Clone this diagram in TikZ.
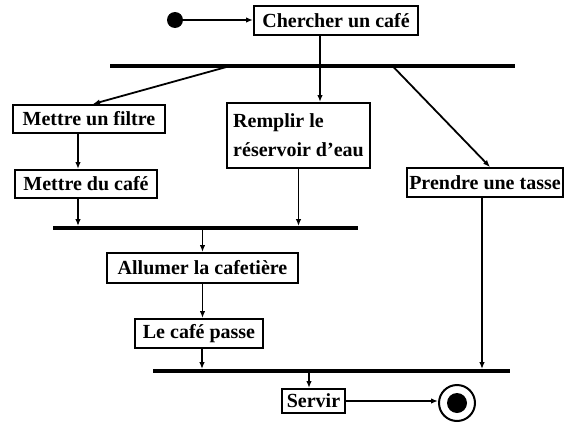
\documentclass[tikz,border=0pt]{standalone}
\usepackage{fontspec}
\setmainfont{Liberation Serif}
\usetikzlibrary{arrows.meta}
\begin{document}
\begin{tikzpicture}[x=1pt,y=-1pt,
  act/.style={draw, line width=2pt, inner sep=1.5pt, font=\bfseries\fontsize{20}{29}\selectfont, align=left},
  bar/.style={fill=black, inner sep=0pt, minimum height=3.5pt},
  conn/.style={line width=1.8pt},
  arr/.style={conn, -{Latex[length=7pt,width=5.5pt]}}]
\useasboundingbox (0,0) rectangle (565,423);
\node[circle, fill=black, inner sep=0pt, minimum size=16pt] (start) at (175,20) {};
\node[act, minimum width=164pt, minimum height=29pt] (chercher) at (336,20.5) {Chercher un café};
\node[bar, minimum width=405pt] (bar1) at (312.5,66) {};
\node[act, minimum width=152pt, minimum height=28pt] (filtre) at (89,119) {Mettre un filtre};
\node[act, minimum width=142pt, minimum height=28pt] (ducafe) at (86,184) {Mettre du café};
\node[act, minimum width=143pt, minimum height=65pt] (remplir) at (298.5,135.5) {Remplir le\\réservoir d'eau};
\node[act, minimum width=156pt, minimum height=29pt] (prendre) at (485,182.5) {Prendre une tasse};
\node[bar, minimum width=305pt] (bar2) at (205.5,228) {};
\node[act, minimum width=191pt, minimum height=30pt] (allumer) at (202.5,268) {Allumer la cafetière};
\node[act, minimum width=128pt, minimum height=29pt] (passe) at (199,333.5) {Le café passe};
\node[bar, minimum width=357pt] (bar3) at (331.5,371) {};
\node[act, minimum width=63pt, minimum height=24pt] (servir) at (313.5,401) {Servir};
\node[circle, draw, line width=2pt, inner sep=0pt, minimum size=36pt] (endo) at (457,403) {};
\node[circle, fill=black, inner sep=0pt, minimum size=20pt] (endi) at (endo.center) {};
% connectors
\draw[arr] (start.east) -- (chercher.west |- start.east);
\draw[conn] ([xshift=-16pt]chercher.south) -- ([xshift=-16pt]chercher.south |- bar1.north);
\draw[arr] ([xshift=-82.5pt]bar1.center) -- ([xshift=4pt]filtre.north);
\draw[arr] ([xshift=21.5pt]remplir.north |- bar1.south) -- ([xshift=21.5pt]remplir.north);
\draw[arr] ([xshift=80pt]bar1.center) -- ([xshift=5pt]prendre.north);
\draw[arr] ([xshift=-11pt]filtre.south) -- ([xshift=-11pt]filtre.south |- ducafe.north);
\draw[arr] ([xshift=-8pt]ducafe.south) -- ([xshift=-8pt]ducafe.south |- bar2.north);
\draw[arr] (remplir.south) -- (remplir.south |- bar2.north);
\draw[arr] (allumer.north |- bar2.south) -- (allumer.north);
\draw[arr] (allumer.south) -- (allumer.south |- passe.north);
\draw[arr] ([xshift=3pt]passe.south) -- ([xshift=3pt]passe.south |- bar3.north);
\draw[arr] ([xshift=-3pt]prendre.south) -- ([xshift=-3pt]prendre.south |- bar3.north);
\draw[arr] ([xshift=-4.5pt]servir.north |- bar3.south) -- ([xshift=-4.5pt]servir.north);
\draw[arr] (servir.east) -- (endo.west |- servir.east);
\end{tikzpicture}
\end{document}
